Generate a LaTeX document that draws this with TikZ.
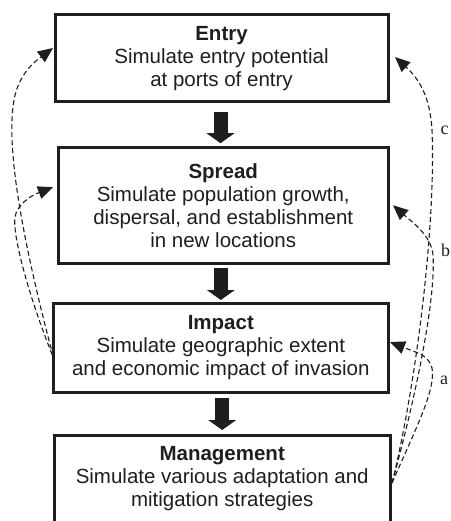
\documentclass[tikz,border=0pt]{standalone}
\usepackage{fontspec}
\setmainfont{Liberation Sans}
\newfontfamily\serifL{Liberation Serif}
\usetikzlibrary{arrows.meta,calc}
\definecolor{ink}{HTML}{1E1E1E}
\begin{document}
\begin{tikzpicture}[x=1pt,y=-1pt,
  box/.style={draw=ink, line width=3pt, rectangle, inner sep=0pt, outer sep=0pt, align=center, text=ink, font=\fontsize{20.5}{23}\selectfont},
  blk/.style={draw=ink, fill=ink, line width=14pt, -{Triangle[length=10pt,width=28pt,line width=0pt]}},
  fb/.style={draw=ink, line width=1.1pt, dash pattern=on 5pt off 3pt, -{Triangle[length=15pt,width=13pt]}},
  lab/.style={font=\serifL\fontsize{18}{20}\selectfont, text=ink, inner sep=0pt}]
\useasboundingbox (0,0) rectangle (450,521);

\node[box, minimum width=333pt, minimum height=87pt] (entry) at (221.5,58.5)
  {\textbf{Entry}\\Simulate entry potential\\at ports of entry};
\node[box, minimum width=329.5pt, minimum height=116pt] (spread) at (223.25,205.2)
  {\textbf{Spread}\\Simulate population growth,\\dispersal, and establishment\\in new locations};
\node[box, minimum width=335pt, minimum height=89pt] (impact) at (220.8,347.8)
  {\textbf{Impact}\\Simulate geographic extent\\and economic impact of invasion};
\node[box, minimum width=335.7pt, minimum height=88pt] (mgmt) at (222.2,479)
  {\textbf{Management}\\Simulate various adaptation and\\mitigation strategies};

% block arrows
\draw[blk] ($(entry.south)+(-1,10)$) -- ($(entry.south |- spread.north)+(-1,-4)$);
\draw[blk] ($(spread.south -| impact.north)+(0,4.7)$) -- ($(impact.north)+(0,-3.3)$);
\draw[blk] ($(impact.south -| mgmt.north)+(0,5.7)$) -- ($(mgmt.north)+(0,-5)$);

% feedback, left
\draw[fb] ($(impact.west)+(0,9)$) .. controls (25,250) and (5,150) .. (14,100)
  .. controls (18,78) and (30,65) .. ($(entry.west)+(-2,-10.5)$);
\draw[fb] ($(impact.west)+(-1,7)$) .. controls (30,300) and (12,235) .. (15,217)
  .. controls (17,205) and (30,196) .. ($(spread.west)+(-5.5,-18)$);

% feedback, right
\draw[fb] ($(mgmt.east)+(2,4)$) .. controls (415,390) and (436,230) .. (432,130)
  .. controls (430,95) and (418,78) .. ($(entry.east)+(7,-1.5)$);
\draw[fb] ($(mgmt.east)+(2,4)$) .. controls (415,400) and (436,300) .. (433,255)
  .. controls (431,235) and (412,222) .. ($(spread.east)+(5,0)$);
\draw[fb] ($(mgmt.east)+(2,4)$) .. controls (415,430) and (436,390) .. (432,368)
  .. controls (429,355) and (415,352) .. ($(impact.east)+(1.7,-5.8)$);

\node[lab] (lc) at (444.5,130) {c};
\node[lab] (lb) at (445.5,250) {b};
\node[lab] (la) at (444,380) {a};
\end{tikzpicture}
\end{document}
